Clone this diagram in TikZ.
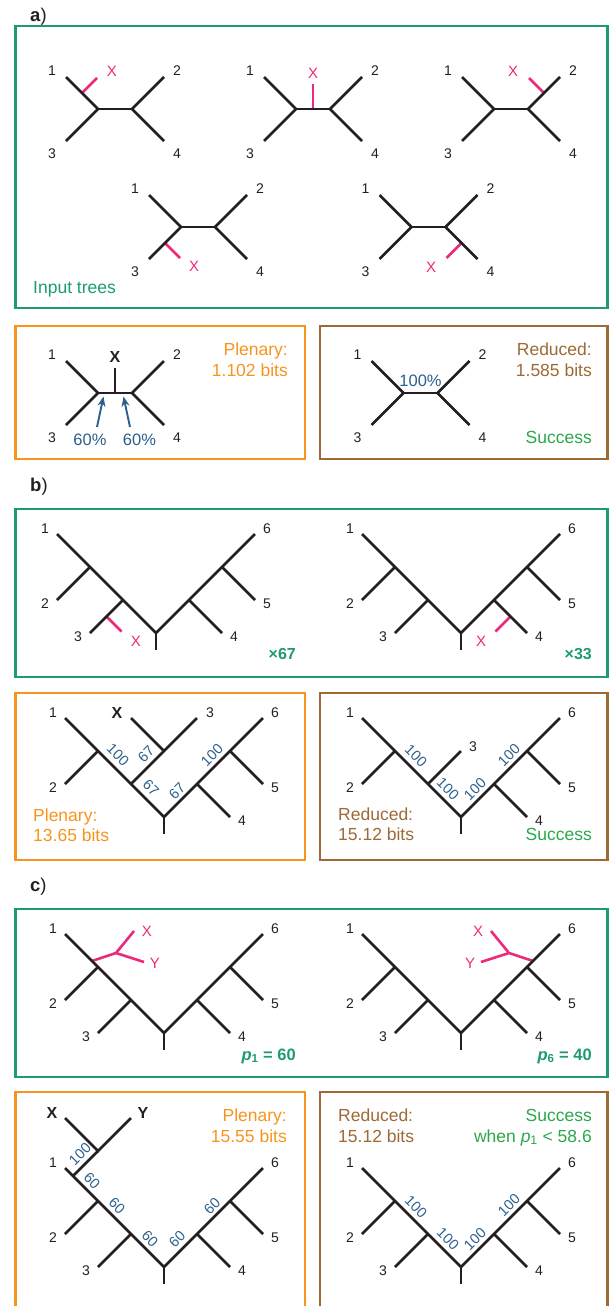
\documentclass[tikz,border=0pt]{standalone}
\usepackage{fontspec}
\setmainfont{Liberation Sans}
\usetikzlibrary{calc,arrows.meta}
\pgfdeclarelayer{bg}
\pgfsetlayers{bg,main}
\definecolor{greenc}{HTML}{1E9A74}
\definecolor{succc}{HTML}{2AA84A}
\definecolor{orangec}{HTML}{F7941D}
\definecolor{brownc}{HTML}{9D6A35}
\definecolor{pinkc}{HTML}{EC2A7D}
\definecolor{bluec}{HTML}{2B5F8C}
\definecolor{treeblack}{HTML}{231F20}
\newcommand\dsize{\fontsize{17.5}{20}\selectfont}
\tikzset{
  tree/.style={line width=2.6pt, draw=treeblack},
  pinkline/.style={line width=2.6pt, draw=pinkc},
  boxline/.style={line width=2.3pt},
  leaf/.style={font=\fontsize{14}{16}\selectfont, text=treeblack, inner sep=0pt},
  boldlab/.style={font=\fontsize{16}{18}\selectfont\bfseries, text=treeblack, inner sep=0pt},
  pinklab/.style={font=\fontsize{15}{16}\selectfont, text=pinkc, inner sep=0pt},
  desc/.style={font=\dsize, inner sep=0pt},
  bnum/.style={font=\fontsize{14.5}{16}\selectfont, text=bluec, inner sep=0pt},
  pct/.style={font=\fontsize{16.5}{18}\selectfont, text=bluec, inner sep=0pt},
  panellab/.style={font=\fontsize{18.5}{20}\selectfont, text=treeblack, inner sep=0pt, anchor=base west},
  barrow/.style={line width=1.9pt, draw=bluec, -{Stealth[length=10pt,width=8pt]}},
}
% four-leaf tree
\newcommand\quartet[3]{%
  \coordinate (#1l) at (#2-17,#3);
  \coordinate (#1r) at (#2+17,#3);
  \coordinate (#1m) at (#2,#3);
  \coordinate (#1a) at (#2-49,#3-32);
  \coordinate (#1b) at (#2+49,#3-32);
  \coordinate (#1c) at (#2-49,#3+32);
  \coordinate (#1d) at (#2+49,#3+32);
  \draw[tree] (#1a) -- (#1l) -- (#1c);
  \draw[tree] (#1b) -- (#1r) -- (#1d);
  \draw[tree] (#1l) -- (#1r);
  \node[leaf] (#1n1) at (#2-63,#3-38) {1};
  \node[leaf] (#1n2) at (#2+62,#3-38) {2};
  \node[leaf] (#1n3) at (#2-63,#3+45) {3};
  \node[leaf] (#1n4) at (#2+62,#3+45) {4};
}
% six-leaf rooted tree, without leaf 3
\newcommand\hexbase[3]{%
  \coordinate (#1R) at (#2,#3);
  \coordinate (#1S) at (#2,#3+17);
  \coordinate (#1L3) at (#2-33,#3-33);
  \coordinate (#1L2) at (#2-66,#3-66);
  \coordinate (#1e1) at (#2-99,#3-99);
  \coordinate (#1e2) at (#2-99,#3-33);
  \coordinate (#1e3) at (#2-66,#3);
  \coordinate (#1R4) at (#2+33,#3-33);
  \coordinate (#1R5) at (#2+66,#3-66);
  \coordinate (#1e6) at (#2+99,#3-99);
  \coordinate (#1e5) at (#2+99,#3-33);
  \coordinate (#1e4) at (#2+66,#3);
  \draw[tree] (#1e1) -- (#1L2) -- (#1L3) -- (#1R) -- (#1R4) -- (#1R5) -- (#1e6);
  \draw[tree] (#1R) -- (#1S);
  \draw[tree] (#1L2) -- (#1e2);
  \draw[tree] (#1R4) -- (#1e4);
  \draw[tree] (#1R5) -- (#1e5);
  \node[leaf] (#1n1) at (#2-111,#3-104) {1};
  \node[leaf] (#1n2) at (#2-111,#3-29) {2};
  \node[leaf] (#1n4) at (#2+78,#3+4) {4};
  \node[leaf] (#1n5) at (#2+111,#3-29) {5};
  \node[leaf] (#1n6) at (#2+111,#3-104) {6};
}
\newcommand\leafthree[3]{%
  \draw[tree] (#1L3) -- (#1e3);
  \node[leaf] (#1n3) at (#2-78,#3+4) {3};
}
% blue rotated support value
\newcommand\bn[5]{\node[bnum, rotate=#4] (#1) at (#2,#3) {#5};}
\begin{document}
\begin{tikzpicture}[x=1pt,y=-1pt]
\useasboundingbox (0,0) rectangle (610,1306);

% ================= panel a =================
\node[panellab] (laba) at (30,21.7) {\textbf{a})};
\draw[boxline, draw=greenc] (15.5,26) rectangle (607.5,308);

\quartet{t1}{115}{109}
\quartet{t2}{313}{109}
\quartet{t3}{511}{109}
\quartet{t4}{198}{227}
\quartet{t5}{428.5}{227}
\begin{pgfonlayer}{bg}
  \draw[pinkline] ($(t1a)!0.5!(t1l)$) coordinate (t1p0) -- ++(15,-15) coordinate (t1p1);
  \draw[pinkline] (t2m) -- ++(0,-25) coordinate (t2p1);
  \draw[pinkline] ($(t3b)!0.5!(t3r)$) coordinate (t3p0) -- ++(-15,-15) coordinate (t3p1);
  \draw[pinkline] ($(t4c)!0.5!(t4l)$) coordinate (t4p0) -- ++(15,15) coordinate (t4p1);
  \draw[pinkline] ($(t5d)!0.5!(t5r)$) coordinate (t5p0) -- ++(-15,15) coordinate (t5p1);
\end{pgfonlayer}
\node[pinklab] (t1x) at (112,71) {X};
\node[pinklab] (t2x) at (313,73) {X};
\node[pinklab] (t3x) at (513,71) {X};
\node[pinklab] (t4x) at (194,266) {X};
\node[pinklab] (t5x) at (431,267) {X};
\node[desc, text=greenc, anchor=base west] (inp) at (33,293) {Input trees};

% plenary a
\draw[boxline, draw=orangec] (15.5,326) rectangle (305,459);
\quartet{pa}{115}{393}
\draw[tree] (pam) -- ++(0,-25) coordinate (pax0);
\node[boldlab] (pax) at (115,357) {X};
\node[pct] (pa60l) at (90,440) {60\%};
\node[pct] (pa60r) at (139.5,440) {60\%};
\coordinate (pat1) at (97,427);
\coordinate (pah1) at (103.5,396.5);
\coordinate (pat2) at (130,427);
\coordinate (pah2) at (123.5,396.5);
\draw[barrow] (pat1) -- (pah1);
\draw[barrow] (pat2) -- (pah2);
\node[desc, text=orangec, anchor=base east] (pap1) at (288,355) {Plenary:};
\node[desc, text=orangec, anchor=base east] (pap2) at (288,376) {1.102 bits};

% reduced a
\draw[boxline, draw=brownc] (320,326) rectangle (607.5,459);
\quartet{ra}{420.5}{393}
\node[pct] (ra100) at (420.5,381) {100\%};
\node[desc, text=brownc, anchor=base east] (rar1) at (592,355) {Reduced:};
\node[desc, text=brownc, anchor=base east] (rar2) at (592,376) {1.585 bits};
\node[desc, text=succc, anchor=base east] (ras) at (592,443) {Success};

% ================= panel b =================
\node[panellab] (labb) at (30,491.7) {\textbf{b})};
\draw[boxline, draw=greenc] (15.5,509) rectangle (607.5,677);

\hexbase{ba}{156}{633}
\leafthree{ba}{156}{633}
\hexbase{bb}{461}{633}
\leafthree{bb}{461}{633}
\begin{pgfonlayer}{bg}
  \draw[pinkline] ($(baL3)!0.5!(bae3)$) coordinate (bap0) -- ++(15,15) coordinate (bap1);
  \draw[pinkline] ($(bbR4)!0.5!(bbe4)$) coordinate (bbp0) -- ++(-15,15) coordinate (bbp1);
\end{pgfonlayer}
\node[pinklab] (bax) at (136,641) {X};
\node[pinklab] (bbx) at (481,641) {X};
\node[desc, font=\fontsize{16}{18}\selectfont\bfseries, text=greenc, anchor=base east] (bac) at (296,659) {×67};
\node[desc, font=\fontsize{16}{18}\selectfont\bfseries, text=greenc, anchor=base east] (bbc) at (592,659) {×33};

% plenary b
\draw[boxline, draw=orangec] (15.5,693) rectangle (305,860);
\hexbase{bp}{164}{817}
\coordinate (bpC) at (164,751);
\coordinate (bpX) at (131,718);
\coordinate (bp3) at (197,718);
\draw[tree] (bpL3) -- (bpC) -- (bp3);
\draw[tree] (bpC) -- (bpX);
\node[boldlab] (bpxl) at (117,713) {X};
\node[leaf] (bp3l) at (210,713) {3};
\bn{bpv1}{118}{755}{-45}{100}
\bn{bpv2}{146}{754}{45}{67}
\bn{bpv3}{151}{788}{-45}{67}
\bn{bpv4}{177}{791}{45}{67}
\bn{bpv5}{212}{755}{45}{100}
\node[desc, text=orangec, anchor=base west] (bpp1) at (33,821.7) {Plenary:};
\node[desc, text=orangec, anchor=base west] (bpp2) at (33,841.7) {13.65 bits};

% reduced b
\draw[boxline, draw=brownc] (320,693) rectangle (607.5,860);
\hexbase{br}{461}{817}
\coordinate (br3) at (461,751);
\draw[tree] (brL3) -- (br3);
\node[leaf] (br3l) at (473,747) {3};
\bn{brv1}{416}{756}{-45}{100}
\bn{brv2}{448}{789}{-45}{100}
\bn{brv3}{475}{789}{45}{100}
\bn{brv4}{509}{755}{45}{100}
\node[desc, text=brownc, anchor=base west] (brr1) at (338,820.7) {Reduced:};
\node[desc, text=brownc, anchor=base west] (brr2) at (338,840.7) {15.12 bits};
\node[desc, text=succc, anchor=base east] (brs) at (592,840.7) {Success};

% ================= panel c =================
\node[panellab] (labc) at (30,891.7) {\textbf{c})};
\draw[boxline, draw=greenc] (15.5,909) rectangle (607.5,1077);

\hexbase{ca}{164}{1033}
\leafthree{ca}{164}{1033}
\hexbase{cb}{461}{1033}
\leafthree{cb}{461}{1033}
\coordinate (caA) at (92,961);
\coordinate (caN) at (116,953);
\coordinate (caX) at (134,931);
\coordinate (caY) at (144,962);
\coordinate (cbA) at (533,961);
\coordinate (cbN) at (509,953);
\coordinate (cbX) at (491,931);
\coordinate (cbY) at (481,962);
\begin{pgfonlayer}{bg}
  \draw[pinkline] (caA) -- (caN) -- (caX);
  \draw[pinkline] (caN) -- (caY);
  \draw[pinkline] (cbA) -- (cbN) -- (cbX);
  \draw[pinkline] (cbN) -- (cbY);
\end{pgfonlayer}
\node[pinklab] (caxl) at (147,931) {X};
\node[pinklab] (cayl) at (155,963) {Y};
\node[pinklab] (cbxl) at (478,931) {X};
\node[pinklab] (cbyl) at (470,963) {Y};
\node[desc, font=\fontsize{16.5}{18}\selectfont\bfseries, text=greenc, anchor=base east] (cap) at (296,1060) {\textit{p}\textsubscript{1} = 60};
\node[desc, font=\fontsize{16.5}{18}\selectfont\bfseries, text=greenc, anchor=base east] (cbp) at (592,1060) {\textit{p}\textsubscript{6} = 40};

% plenary c
\draw[boxline, draw=orangec] (15.5,1092) rectangle (305,1320);
\hexbase{cp}{164}{1267}
\leafthree{cp}{164}{1267}
\coordinate (cpA) at (73,1176);
\coordinate (cpN) at (98,1151);
\coordinate (cpX) at (65,1118);
\coordinate (cpY) at (131,1118);
\draw[tree] (cpX) -- (cpN) -- (cpY);
\draw[tree] (cpN) -- (cpA);
\node[boldlab] (cpxl) at (52,1113) {X};
\node[boldlab] (cpyl) at (143,1113) {Y};
\bn{cpv1}{80}{1154}{45}{100}
\bn{cpv2}{92}{1181}{-45}{60}
\bn{cpv3}{117}{1206}{-45}{60}
\bn{cpv4}{150}{1239}{-45}{60}
\bn{cpv5}{177}{1239}{45}{60}
\bn{cpv6}{212}{1206}{45}{60}
\node[desc, text=orangec, anchor=base east] (cpp1) at (287,1121) {Plenary:};
\node[desc, text=orangec, anchor=base east] (cpp2) at (287,1142) {15.55 bits};

% reduced c
\draw[boxline, draw=brownc] (320,1092) rectangle (607.5,1320);
\hexbase{cr}{461}{1267}
\leafthree{cr}{461}{1267}
\bn{crv1}{416}{1207}{-45}{100}
\bn{crv2}{448}{1239}{-45}{100}
\bn{crv3}{475}{1239}{45}{100}
\bn{crv4}{509}{1205}{45}{100}
\node[desc, text=brownc, anchor=base west] (crr1) at (338,1121) {Reduced:};
\node[desc, text=brownc, anchor=base west] (crr2) at (338,1142) {15.12 bits};
\node[desc, text=succc, anchor=base east] (crs1) at (592,1121) {Success};
\node[desc, text=succc, anchor=base east] (crs2) at (592,1142) {when \textit{p}\textsubscript{1} < 58.6};
\end{tikzpicture}
\end{document}
